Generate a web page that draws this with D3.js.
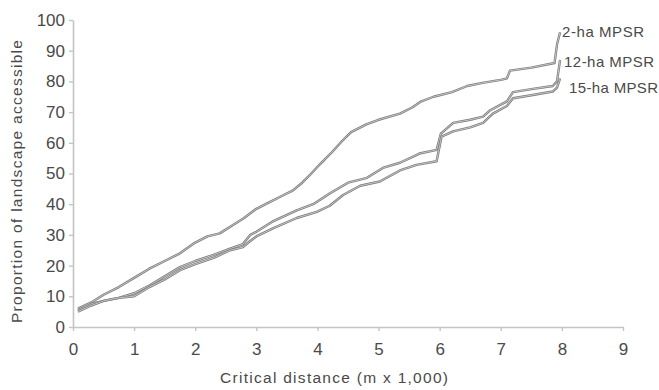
<!DOCTYPE html>
<html>
<head>
<meta charset="utf-8">
<script src="https://cdn.jsdelivr.net/npm/d3@7/dist/d3.min.js"></script>
<style>
  body { margin: 0; background: #fff; }
  svg { display: block; font-family: "Liberation Sans", Arial, sans-serif; }
</style>
</head>
<body>
<svg id="chart" width="659" height="390"></svg>
<script>
// critical distance (m x 1,000) and proportion accessible
const ha2 = [
  [0.08, 6], [0.3, 8], [0.5, 10.5], [0.75, 13], [1.0, 16], [1.25, 19], [1.5, 21.5],
  [1.75, 24], [2.0, 27.5], [2.2, 29.5], [2.4, 30.5], [2.6, 33], [2.8, 35.5], [3.0, 38.5],
  [3.2, 40.5], [3.4, 42.5], [3.6, 44.5], [3.75, 47], [3.9, 50], [4.04, 53], [4.24, 57],
  [4.4, 60.5], [4.55, 63.5], [4.8, 66], [5.0, 67.5], [5.35, 69.5], [5.55, 71.5], [5.7, 73.5],
  [5.9, 75], [6.2, 76.5], [6.45, 78.5], [6.7, 79.5], [7.0, 80.5], [7.1, 81], [7.15, 83.5],
  [7.5, 84.5], [7.88, 86], [7.92, 92], [7.97, 96]
]
const ha12 = [
  [0.08, 5.5], [0.3, 7.5], [0.5, 8.5], [0.75, 9.5], [1.0, 11], [1.25, 13.5], [1.5, 16.5],
  [1.75, 19.5], [2.0, 21.5], [2.3, 23.5], [2.57, 25.5], [2.78, 27], [2.9, 30], [3.0, 31],
  [3.28, 34.5], [3.5, 36.5], [3.66, 38], [3.93, 40], [4.2, 43.5], [4.5, 47], [4.81, 48.6],
  [5.07, 51.8], [5.35, 53.5], [5.67, 56.5], [5.95, 57.7], [6.02, 63], [6.22, 66.5],
  [6.5, 67.5], [6.71, 68.5], [6.82, 70.5], [7.1, 73.5], [7.2, 76.5], [7.5, 77.5],
  [7.85, 78.5], [7.92, 80], [7.97, 87]
]
const ha15 = [
  [0.08, 5], [0.3, 7], [0.5, 8.5], [0.75, 9.5], [1.0, 10], [1.25, 13], [1.5, 15.5],
  [1.75, 18.5], [2.0, 20.5], [2.3, 22.5], [2.57, 25], [2.78, 26], [2.9, 28], [3.0, 29.5],
  [3.28, 32.2], [3.66, 35.5], [3.99, 37.5], [4.2, 39.5], [4.42, 43], [4.7, 46], [5.02, 47.4],
  [5.35, 51], [5.62, 52.8], [5.95, 54], [6.03, 62], [6.22, 63.7], [6.5, 65], [6.71, 66.5],
  [6.87, 69.5], [7.1, 72], [7.2, 74.5], [7.5, 75.5], [7.85, 76.7], [7.92, 78], [7.97, 81]
]
const seriesNames = ['2-ha MPSR', '12-ha MPSR', '15-ha MPSR']
const xTicks = [0, 1, 2, 3, 4, 5, 6, 7, 8, 9]
const yTicks = [0, 10, 20, 30, 40, 50, 60, 70, 80, 90, 100]

const width = 659, height = 390
const margin = { top: 20, right: 36, bottom: 63, left: 73 }
const w = width - margin.left - margin.right
const h = height - margin.top - margin.bottom

const svg = d3.select('#chart')
const g = svg.append('g').attr('transform', `translate(${margin.left},${margin.top})`)

const x = d3.scaleLinear().domain([0, 9]).range([0, w])
const y = d3.scaleLinear().domain([0, 100]).range([h, 0])

const axisColor = '#c4c4c4'
const textColor = '#4a4a4a'

const xAxis = g.append('g').attr('transform', `translate(0,${h})`)
  .call(d3.axisBottom(x).tickValues(xTicks).tickSize(4).tickSizeOuter(0).tickPadding(12))
const yAxis = g.append('g')
  .call(d3.axisLeft(y).tickValues(yTicks).tickSize(4).tickSizeOuter(0).tickPadding(4))

for (const ax of [xAxis, yAxis]) {
  ax.select('.domain').attr('stroke', axisColor).attr('stroke-width', 1.6)
  ax.selectAll('.tick line').attr('stroke', axisColor).attr('stroke-width', 1.4)
  ax.selectAll('.tick text')
    .attr('fill', textColor)
    .style('font-size', '17px')
    .style('font-family', '"Liberation Sans", Arial, sans-serif')
}

// lines: darker outline with a light core, like the scanned original
const line = d3.line().x(d => x(d[0])).y(d => y(d[1]))
const all = [ha2, ha12, ha15]
all.forEach(data => {
  g.append('path').datum(data)
    .attr('fill', 'none').attr('stroke', '#7c7c7c').attr('stroke-width', 2.4)
    .attr('stroke-linejoin', 'round').attr('d', line)
  g.append('path').datum(data)
    .attr('fill', 'none').attr('stroke', '#d6d6d6').attr('stroke-width', 0.8)
    .attr('stroke-linejoin', 'round').attr('d', line)
})

// end labels
const labelNudge = [[2, 5], [4, 7], [9, 15]]
const labelLen = [82, 90, 89]
all.forEach((data, i) => {
  const last = data[data.length - 1]
  g.append('text')
    .attr('x', x(last[0]) + labelNudge[i][0])
    .attr('y', y(last[1]) + labelNudge[i][1])
    .attr('fill', textColor)
    .style('font-size', '15px')
    .attr('textLength', labelLen[i])
    .attr('lengthAdjust', 'spacing')
    .text(seriesNames[i])
})

// axis titles
svg.append('text')
  .attr('x', 220).attr('y', 383)
  .attr('fill', textColor)
  .style('font-size', '15.5px')
  .attr('textLength', 228).attr('lengthAdjust', 'spacing')
  .text('Critical distance (m x 1,000)')
svg.append('text')
  .attr('transform', 'translate(22,323) rotate(-90)')
  .attr('fill', textColor)
  .style('font-size', '15.5px')
  .attr('textLength', 283).attr('lengthAdjust', 'spacing')
  .text('Proportion of landscape accessible')
</script>
</body>
</html>
